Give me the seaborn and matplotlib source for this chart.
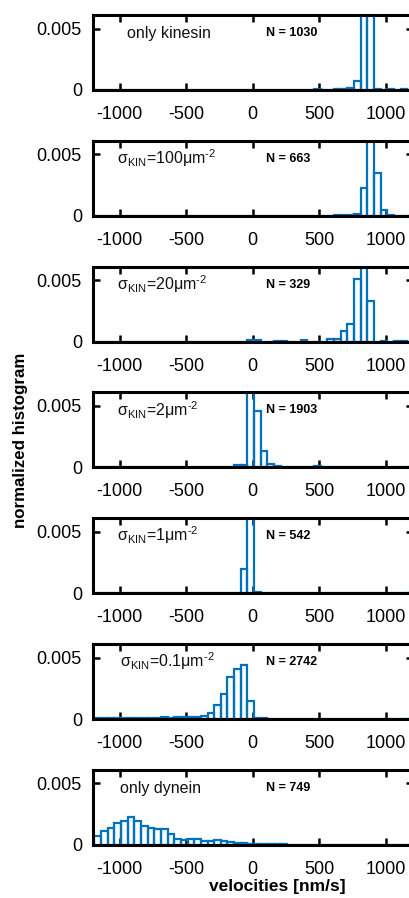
import numpy as np
import pandas as pd
import matplotlib
matplotlib.use("Agg")
import matplotlib.pyplot as plt
import seaborn as sns

sns.set_style("ticks")
plt.rcParams['font.family'] = ['Liberation Sans', 'DejaVu Sans']
plt.rcParams['mathtext.fontset'] = 'custom'
plt.rcParams['mathtext.rm'] = 'Liberation Sans'
plt.rcParams['text.color'] = 'black'

# ---------------- data ----------------
bin_width = 50
bin_range = (-1240, 1260)

labels = ["only kinesin",
          "σ$_{\\mathregular{KIN}}$=100μm$^{\\mathregular{\u20102}}$",
          "σ$_{\\mathregular{KIN}}$=20μm$^{\\mathregular{\u20102}}$",
          "σ$_{\\mathregular{KIN}}$=2μm$^{\\mathregular{\u20102}}$",
          "σ$_{\\mathregular{KIN}}$=1μm$^{\\mathregular{\u20102}}$",
          "σ$_{\\mathregular{KIN}}$=0.1μm$^{\\mathregular{\u20102}}$",
          "only dynein"]
n_counts = [1030, 663, 329, 1903, 542, 2742, 749]

# bin centres / normalized heights for each panel
kin_only_v = [485, 635, 685, 735, 785, 835, 885, 935, 1035, 1135]
kin_only_h = [0.00005, 0.00005, 0.00005, 0.00014, 0.00074, 0.0100, 0.0088, 0.0001, 0.00005, 0.00005]

s100_v = [635, 685, 735, 785, 835, 885, 935, 985, 1035]
s100_h = [0.00003, 0.00003, 0.00003, 0.00013, 0.0023, 0.0134, 0.0035, 0.0005, 0.00003]

s20_v = [-15, 35, 185, 235, 385, 585, 635, 685, 735, 785, 835, 885, 985, 1085, 1135]
s20_h = [0.00012, 0.00012, 0.00006, 0.00006, 0.00012, 0.00018, 0.00018, 0.00085,
         0.0014, 0.0051, 0.0083, 0.0033, 0.00006, 0.00006, 0.00006]

s2_v = [-315, -265, -215, -165, -115, -65, -15, 35, 85, 135, 185, 235, 285, 335,
        385, 435, 485, 535, 585, 635, 685, 735, 785]
s2_h = [0.00003, 0.00003, 0.00003, 0.00005, 0.00019, 0.00019, 0.0125, 0.0046, 0.00135,
        0.0003, 0.0001, 0.00005, 0.00005, 0.00005, 0.00005, 0.00005, 0.00008,
        0.00005, 0.00005, 0.00005, 0.00003, 0.00003, 0.00003]

s1_v = [-65, -15, 35]
s1_h = [0.00195, 0.0179, 0.00011]

s01_v = [-1215, -1165, -1115, -1065, -1015, -965, -915, -865, -815, -765, -715,
         -665, -615, -565, -515, -465, -415, -365, -315, -265, -215, -165, -115,
         -65, -15, 35, 85, 135]
s01_h = [0.00012, 0.0001, 0.00008, 0.00008, 0.00006, 0.00008, 0.0001, 0.00008,
         0.0001, 0.0001, 0.00012, 0.00014, 0.00012, 0.00016, 0.00018, 0.00016,
         0.0002, 0.00025, 0.0005, 0.0011, 0.0020, 0.0034, 0.0041, 0.0044, 0.0015,
         0.00008, 0.00005, 0.00004]

dyn_only_v = [-1215, -1165, -1115, -1065, -1015, -965, -915, -865, -815, -765,
              -715, -665, -615, -565, -515, -465, -415, -365, -315, -265, -215,
              -165, -115, -65, -15, 35, 85, 135, 185, 235]
dyn_only_h = [0.0003, 0.00075, 0.00114, 0.0014, 0.0018, 0.0019, 0.0023, 0.0019,
              0.0015, 0.0014, 0.0013, 0.0013, 0.0009, 0.0005, 0.00035, 0.0005,
              0.0005, 0.00027, 0.00027, 0.00035, 0.00027, 0.0002, 0.00015,
              0.00015, 0.0001, 0.0001, 0.00005, 0.00005, 0.0001, 0.0001]

panel_v = [kin_only_v, s100_v, s20_v, s2_v, s1_v, s01_v, dyn_only_v]
panel_h = [kin_only_h, s100_h, s20_h, s2_h, s1_h, s01_h, dyn_only_h]

xticks = [-1000, -500, 0, 500, 1000]
yticks = [0, 0.005]
ytick_labels = ["0", "0.005"]

# ---------------- figure ----------------
W, H = 409, 898
fig = plt.figure(figsize=(W / 100, H / 100), dpi=100)
color = "#0072BD"
ax_left = 93 / W
ax_w = (412.6 - 93) / W
ax_h = 75 / H

for i in range(7):
    top_px = 15 + 125.8 * i
    ax = fig.add_axes([ax_left, 1 - (top_px + 75) / H, ax_w, ax_h])
    df = pd.DataFrame({"velocity": panel_v[i], "height": panel_h[i]})
    sns.histplot(data=df, x="velocity", weights="height", binwidth=bin_width,
                 binrange=bin_range, stat="count", fill=False, element="bars",
                 color=color, linewidth=1.6, ax=ax)
    ax.set_xlim(-1200, 1200)
    ax.set_ylim(0, 0.0061)
    ax.set_xticks(xticks)
    ax.set_xticklabels([str(t) for t in xticks])
    ax.set_yticks(yticks)
    ax.set_yticklabels(ytick_labels)
    ax.set_xlabel("")
    ax.set_ylabel("")
    for sp in ax.spines.values():
        sp.set_visible(True)
        sp.set_linewidth(2.2)
        sp.set_color("black")
    ax.tick_params(direction="in", top=True, right=True, length=5, width=1.8,
                   labelsize=13, colors="black")
    ax.tick_params(axis="x", pad=11.5)
    ax.tick_params(axis="y", pad=8)
    lx = -1020 if i in (1, 2, 3, 4) else (-948 if i == 0 else -995)
    ax.text(lx, 0.69, labels[i], transform=ax.get_xaxis_transform(),
            fontsize=11.5, va="baseline", ha="left", color="#111111")
    ax.text(100, 0.72, f"N = {n_counts[i]}", transform=ax.get_xaxis_transform(),
            fontsize=9, fontweight="bold", va="baseline", ha="left")

fig.text(277 / W, 1 - 887 / H, "velocities [nm/s]", fontsize=12.5,
         fontweight="bold", ha="center", va="center", color="black")
fig.text(21 / W, 1 - 440 / H, "normalized histogram", fontsize=12.2,
         fontweight="bold", ha="center", va="center", rotation=90, color="black")

fig.savefig("out.png", dpi=100)
